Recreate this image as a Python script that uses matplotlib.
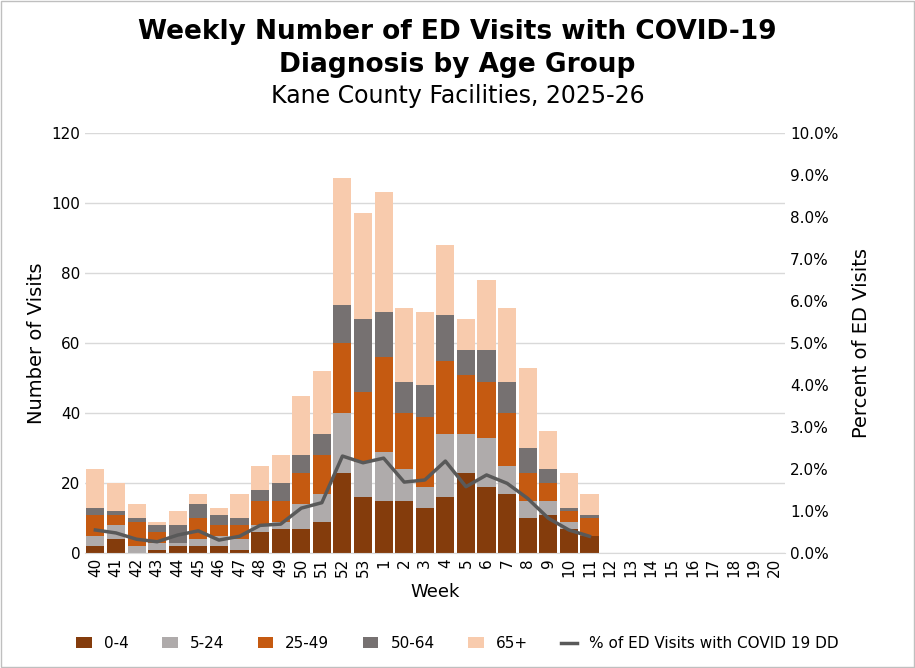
import numpy as np
import matplotlib.pyplot as plt
from matplotlib.ticker import PercentFormatter

# Weekly data (cumulative tops converted to per-group counts)
weeks = ["40", "41", "42", "43", "44", "45", "46", "47", "48", "49", "50", "51", "52", "53",
         "1", "2", "3", "4", "5", "6", "7", "8", "9", "10", "11", "12", "13", "14", "15",
         "16", "17", "18", "19", "20"]

age_0_4 = [2, 4, 0, 1, 2, 2, 2, 1, 6, 7, 7, 9, 23, 16, 15, 15, 13, 16, 23, 19, 17, 10, 11, 7, 5]
age_5_24 = [3, 4, 2, 2, 1, 2, 3, 3, 2, 2, 7, 8, 17, 10, 14, 9, 6, 18, 11, 14, 8, 5, 4, 2, 0]
age_25_49 = [6, 3, 7, 3, 0, 6, 3, 4, 7, 6, 9, 11, 20, 20, 27, 16, 20, 21, 17, 16, 15, 8, 5, 3, 5]
age_50_64 = [2, 1, 1, 2, 5, 4, 3, 2, 3, 5, 5, 6, 11, 21, 13, 9, 9, 13, 7, 9, 9, 7, 4, 1, 1]
age_65 = [11, 8, 4, 1, 4, 3, 2, 7, 7, 8, 17, 18, 36, 30, 34, 21, 21, 20, 9, 20, 21, 23, 11, 10, 6]

pct_covid = [0.55, 0.48, 0.33, 0.27, 0.43, 0.53, 0.31, 0.40, 0.66, 0.69, 1.07, 1.20, 2.31, 2.15,
             2.26, 1.69, 1.74, 2.19, 1.58, 1.86, 1.66, 1.30, 0.83, 0.55, 0.40]

groups = [("0-4", age_0_4, "#843c0c"), ("5-24", age_5_24, "#afabab"),
          ("25-49", age_25_49, "#c55a11"), ("50-64", age_50_64, "#767171"),
          ("65+", age_65, "#f8cbad")]

fig = plt.figure(figsize=(9.15, 6.68), dpi=100)
fig.patches.append(plt.Rectangle((0.001, 0.001), 0.998, 0.998, transform=fig.transFigure,
                                 fill=False, edgecolor="#bfbfbf", linewidth=1))
ax = fig.add_axes([0.093, 0.172, 0.765, 0.629])

x = np.arange(len(weeks))
n = len(age_0_4)
bottom = np.zeros(n)
handles = []
for name, vals, color in groups:
    b = ax.bar(x[:n], vals, bottom=bottom, width=0.88, color=color, label=name, zorder=2)
    bottom += np.array(vals)
    handles.append(b)

ax.set_xlim(-0.5, len(weeks) - 0.5)
ax.set_ylim(0, 120)
ax.set_yticks(range(0, 121, 20))
ax.set_xticks(x)
ax.set_xticklabels(weeks, rotation=90, fontsize=11)
ax.tick_params(axis="y", labelsize=11, length=0)
ax.tick_params(axis="x", length=0)
ax.grid(axis="y", color="#d9d9d9", linewidth=1, zorder=0)
for s in ["top", "right", "left"]:
    ax.spines[s].set_visible(False)
ax.spines["bottom"].set_color("#d9d9d9")
ax.set_ylabel("Number of Visits", fontsize=14)
ax.set_xlabel("Week", fontsize=13)

ax2 = ax.twinx()
line, = ax2.plot(x[:n], pct_covid, color="#595959", linewidth=2.5,
                 label="% of ED Visits with COVID 19 DD", zorder=3)
ax2.set_ylim(0, 10)
ax2.set_yticks(np.arange(0, 10.1, 1))
ax2.yaxis.set_major_formatter(PercentFormatter(decimals=1))
ax2.tick_params(axis="y", labelsize=11, length=0)
for s in ["top", "right", "left", "bottom"]:
    ax2.spines[s].set_visible(False)
ax2.set_ylabel("Percent of ED Visits", fontsize=14, labelpad=10)

fig.text(0.5, 0.952, "Weekly Number of ED Visits with COVID-19", ha="center", va="center",
         fontsize=19, fontweight="bold")
fig.text(0.5, 0.903, "Diagnosis by Age Group", ha="center", va="center",
         fontsize=19, fontweight="bold")
fig.text(0.5, 0.857, "Kane County Facilities, 2025-26", ha="center", va="center", fontsize=17)

fig.legend(handles + [line], [g[0] for g in groups] + [line.get_label()],
           loc="lower center", bbox_to_anchor=(0.5, 0.005), ncol=6, frameon=False,
           fontsize=11, handlelength=1.0, columnspacing=2.2)

fig.savefig("out.png", dpi=100)
